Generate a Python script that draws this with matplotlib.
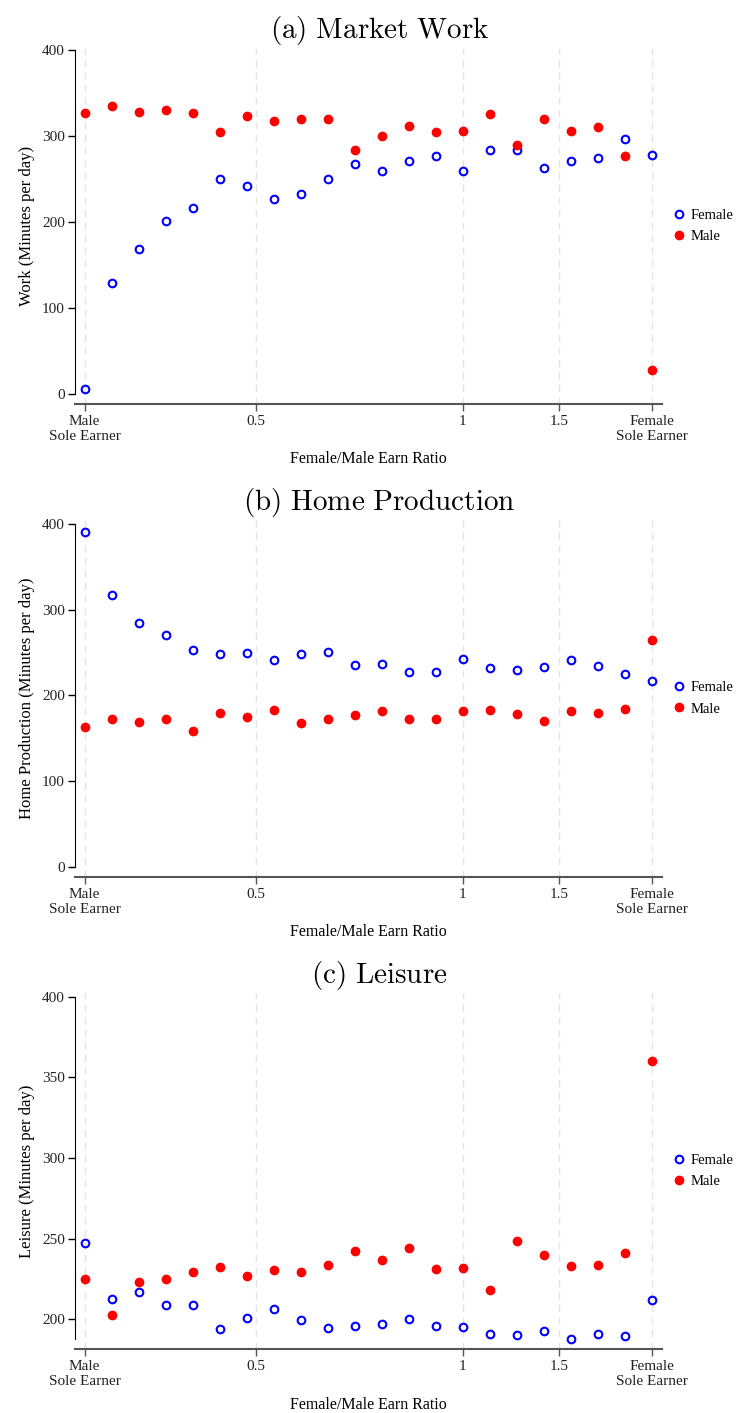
import numpy as np
import matplotlib.pyplot as plt

plt.rcParams['font.family'] = ['Liberation Serif', 'DejaVu Serif']
plt.rcParams['mathtext.fontset'] = 'cm'

# 22 earnings-ratio bins, from male sole earner to female sole earner
bins = np.arange(22)
tick_pos = [0, 6.34, 14, 17.57, 21]
tick_labels = ['Male\nSole Earner', '0.5', '1', '1.5', 'Female\nSole Earner']

work_female = [5.5, 128.9, 168.1, 200.7, 216.2, 249.6, 242.1, 226.7, 232.8, 249.6, 267.8,
               259.3, 271.2, 276.7, 259.6, 283.3, 283.3, 263.1, 271.2, 274.0, 296.9, 277.5]
work_male = [327.0, 334.5, 328.0, 330.6, 326.4, 304.3, 323.3, 317.1, 320.2, 319.4, 284.0,
             299.6, 312.0, 304.3, 306.2, 325.2, 289.2, 320.2, 305.4, 310.5, 276.7, 27.9]

home_female = [391.0, 317.0, 284.7, 271.0, 253.5, 248.1, 249.6, 241.1, 248.1, 250.8, 235.2,
               236.4, 227.1, 227.1, 242.6, 232.5, 229.4, 233.6, 241.1, 234.8, 225.1, 217.3]
home_male = [162.8, 172.9, 169.4, 172.5, 158.1, 179.9, 175.2, 183.0, 167.5, 172.5, 177.6,
             181.9, 172.5, 172.5, 181.9, 182.7, 178.0, 170.6, 182.3, 179.6, 184.6, 264.8]

leis_female = [247.3, 212.8, 216.7, 208.9, 209.1, 194.2, 200.6, 206.2, 199.8, 194.8, 195.6,
               197.1, 200.0, 195.6, 195.4, 191.1, 190.3, 192.6, 187.6, 190.9, 189.9, 212.0]
leis_male = [224.8, 202.5, 223.3, 225.0, 229.5, 232.4, 227.0, 230.4, 229.1, 233.5, 242.5,
             237.0, 244.2, 231.0, 231.8, 218.2, 248.5, 239.9, 232.9, 233.5, 241.3, 360.1]

panels = [
    ('(a)\\ Market\\ Work', 'Work (Minutes per day)', work_female, work_male,
     [0, 100, 200, 300, 400], (-12, 402.8), (0, 400), [0.7141, 0.9662]),
    ('(b)\\ Home\\ Production', 'Home Production (Minutes per day)', home_female, home_male,
     [0, 100, 200, 300, 400], (-11.7, 405), (0, 400), [0.3796, 0.632]),
    ('(c)\\ Leisure', 'Leisure (Minutes per day)', leis_female, leis_male,
     [200, 250, 300, 350, 400], (181.4, 402.5), (187.6, 400), [0.0451, 0.2975]),
]

fig = plt.figure(figsize=(7.38, 14.13), dpi=100)

for title, ylab, fem, male, yticks, ylim, ybounds, (bot, top) in panels:
    ax = fig.add_axes([0.1012, bot, 0.7954, top - bot])
    for t in tick_pos:
        ax.axvline(t, color='#e4e4e4', lw=1, ls=(0, (5, 4)), zorder=0)
    ax.plot(bins, fem, 'o', ms=5.5, mfc='none', mec='blue', mew=1.5, label='Female')
    ax.plot(bins, male, 'o', ms=6, mfc='red', mec='red', label='Male')
    ax.set_xlim(-0.37, 21.37)
    ax.set_ylim(*ylim)
    ax.set_yticks(yticks)
    ax.set_xticks(tick_pos)
    ax.set_xticklabels(tick_labels, fontsize=11, linespacing=1.2, color='#222222')
    ax.tick_params(axis='y', labelsize=11, length=5, width=1, pad=2, labelcolor='#222222')
    ax.tick_params(axis='x', length=5, width=1, pad=3, color='#555555')
    ax.spines['top'].set_visible(False)
    ax.spines['right'].set_visible(False)
    ax.spines['bottom'].set_color('#555555')
    ax.spines['bottom'].set_linewidth(1.5)
    ax.spines['left'].set_bounds(*ybounds)
    ax.set_title('$\\mathrm{' + title + '}$', fontsize=21, pad=7, x=0.519)
    ax.set_ylabel(ylab, fontsize=12, labelpad=5)
    ax.set_xlabel('Female/Male Earn Ratio', fontsize=11.5, labelpad=6)
    ax.legend(loc='center left', bbox_to_anchor=(1.0, 0.5), frameon=False,
              fontsize=10.5, handlelength=0.8, handletextpad=0.4,
              borderaxespad=0.4, labelspacing=0.55)

fig.savefig('out.png', dpi=100)
